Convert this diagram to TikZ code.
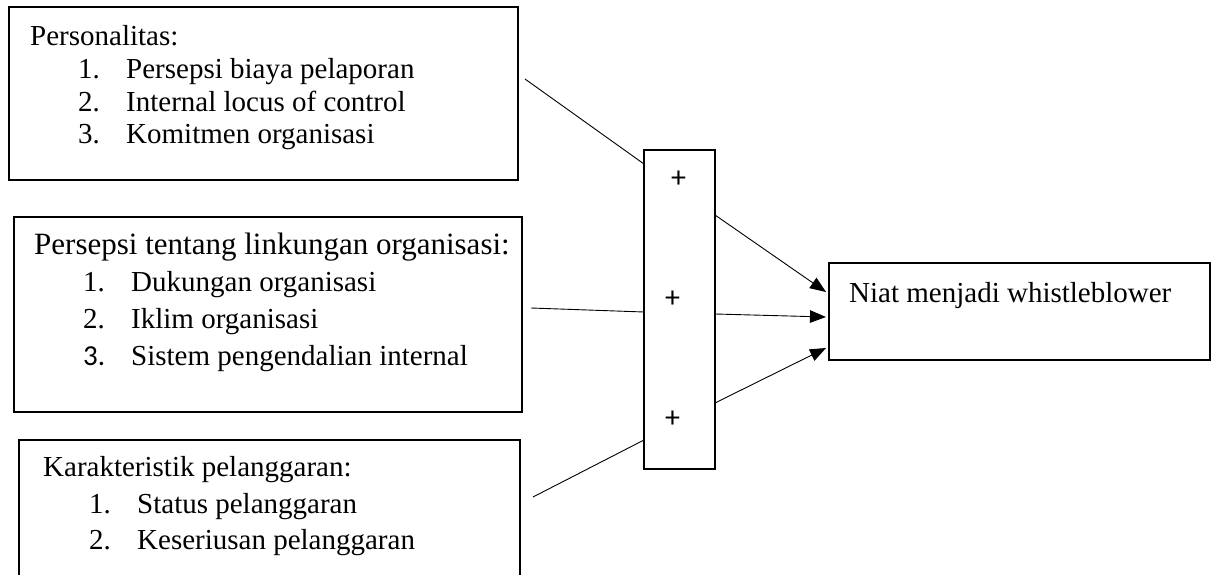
\documentclass[tikz,border=0pt]{standalone}
\usepackage{fontspec}
\setmainfont{Liberation Serif}
\newfontfamily\plusfont{Carlito}
\usetikzlibrary{arrows.meta}
\begin{document}
\begin{tikzpicture}[x=1pt,y=-1pt,
  box/.style={draw, line width=1.1pt, inner sep=0pt, outer sep=0pt},
  txt/.style={anchor=base west, inner sep=0pt, font=\fontsize{29}{33}\selectfont},
  num/.style={anchor=base west, inner sep=0pt, font=\fontsize{29}{33}\selectfont},
  link/.style={line width=0.9pt},
  arr/.style={line width=0.9pt, -{Triangle[length=16pt,width=12.5pt]}},
  sign/.style={font=\plusfont\fontsize{30}{34}\selectfont, inner sep=0pt}]
\useasboundingbox (0,0) rectangle (1211,575);

% frames
\node[box, minimum width=509pt, minimum height=173pt] (b1) at (263.5,93.5) {};
\node[box, minimum width=508pt, minimum height=195pt] (b2) at (268,314.5) {};
\node[box, minimum width=501pt, minimum height=170pt] (b3) at (269.5,525) {};
\node[box, minimum width=71pt, minimum height=319pt] (mid) at (679.5,309.5) {};
\node[box, minimum width=381pt, minimum height=97pt] (out) at (1019.5,311.5) {};

% Personalitas
\node[txt] (h1) at (30,45.7) {Personalitas:};
\node[num] (n11) at (78,79) {1.};
\node[txt] (t11) at (126,79) {Persepsi biaya pelaporan};
\node[num] (n12) at (78,111.5) {2.};
\node[txt] (t12) at (126,111.5) {Internal locus of control};
\node[num] (n13) at (78,144) {3.};
\node[txt] (t13) at (126,144) {Komitmen organisasi};

% Persepsi tentang lingkungan
\node[txt, font=\fontsize{31}{35}\selectfont] (h2) at (34,254) {Persepsi tentang linkungan organisasi:};
\node[num] (n21) at (83,291) {1.};
\node[txt] (t21) at (131,291) {Dukungan organisasi};
\node[num] (n22) at (83,328) {2.};
\node[txt] (t22) at (131,328) {Iklim organisasi};
\node[num, font=\plusfont\fontsize{29}{33}\selectfont] (n23) at (83,365) {3.};
\node[txt] (t23) at (131,365) {Sistem pengendalian internal};

% Karakteristik pelanggaran
\node[txt] (h3) at (43,476) {Karakteristik pelanggaran:};
\node[num] (n31) at (89,513) {1.};
\node[txt] (t31) at (137,513) {Status pelanggaran};
\node[num] (n32) at (89,549) {2.};
\node[txt] (t32) at (137,549) {Keseriusan pelanggaran};

% outcome
\node[txt] (t4) at (849,302) {Niat menjadi whistleblower};

% signs
\node[sign] (p1) at (678.5,179.5) {+};
\node[sign] (p2) at (672.5,299) {+};
\node[sign] (p3) at (672.5,419) {+};

% connector ends
\coordinate (s1) at (525,79);
\coordinate (s2) at (531,308);
\coordinate (s3) at (533,497);
\coordinate (e1) at (mid.west |- 0,164);
\coordinate (e2) at (mid.west |- 0,312);
\coordinate (e3) at (mid.west |- 0,440);
\coordinate (o1) at (mid.east |- 0,215);
\coordinate (o2) at (mid.east |- 0,314);
\coordinate (o3) at (mid.east |- 0,403);
\coordinate (i1) at (826,292);
\coordinate (i2) at (826,317);
\coordinate (i3) at (826,348);

\draw[link] (s1) -- (e1);
\draw[link] (s2) -- (e2);
\draw[link] (s3) -- (e3);
\draw[arr] (o1) -- (i1);
\draw[arr] (o2) -- (i2);
\draw[arr] (o3) -- (i3);
\end{tikzpicture}
\end{document}
